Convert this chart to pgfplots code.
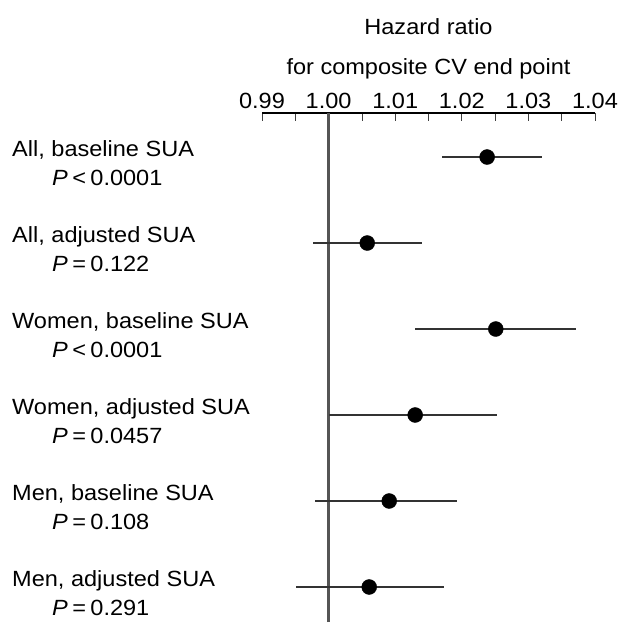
\documentclass[border=0pt]{standalone}
\usepackage{pgfplots}
\pgfplotsset{compat=1.18}
\usepackage{pgfplotstable}
\usepackage{fontspec}
\setmainfont[FakeStretch=1.07]{Liberation Sans}
\definecolor{vline}{HTML}{555555}
\definecolor{ciline}{HTML}{333333}
\newcommand{\pv}[2]{\textit{P}\hspace{0.2em}#1\hspace{0.2em}#2}
\pgfplotstableread{
y   x        lo       hi
6   1.0238   1.0170   1.0320
5   1.0058   0.9977   1.0140
4   1.0251   1.0130   1.0371
3   1.0130   1.0000   1.0253
2   1.0091   0.9980   1.0193
1   1.0061   0.9951   1.0173
}\hrdata
\begin{document}
\begin{tikzpicture}[x=1pt,y=1pt]
\path[use as bounding box] (0,0) rectangle (618,626);
\begin{axis}[
  at={(262pt,4pt)}, anchor=south west,
  scale only axis, width=333pt, height=509pt,
  xmin=0.99, xmax=1.04, ymin=0.593, ymax=6.512,
  axis x line=top, axis y line=none,
  x axis line style={-, line width=1.6pt, black},
  xtick={0.99,1.00,1.01,1.02,1.03,1.04},
  xticklabels={0.99,1.00,1.01,1.02,1.03,1.04},
  minor x tick num=1,
  tick align=inside,
  major tick length=8pt, minor tick length=8pt,
  every tick/.style={black!75, line width=0.8pt},
  xticklabel style={font=\fontsize{22}{26}\selectfont, yshift=1pt},
  clip=false,
]
\addplot[vline, line width=3.2pt] coordinates {(1.00,0.593) (1.00,6.512)};
\addplot[only marks, mark=*, mark size=7.5pt, black,
  error bars/.cd, x dir=both, x explicit,
  error bar style={ciline, line width=2.7pt}, error mark=none]
  table[x=x, y=y, x error plus expr=\thisrow{hi}-\thisrow{x}, x error minus expr=\thisrow{x}-\thisrow{lo}] {\hrdata};
\end{axis}
\begin{scope}[every node/.style={font=\fontsize{22}{26}\selectfont, inner sep=0pt}]
\node[anchor=base] at (428.5, 591) {Hazard ratio};
\node[anchor=base] at (428.5, 551) {for composite CV end point};
\node[anchor=base west] at (12, 469) {All, baseline SUA};
\node[anchor=base west] at (52, 440) {\pv{<}{0.0001}};
\node[anchor=base west] at (12, 383) {All, adjusted SUA};
\node[anchor=base west] at (52, 354) {\pv{=}{0.122}};
\node[anchor=base west] at (12, 297) {Women, baseline SUA};
\node[anchor=base west] at (52, 268) {\pv{<}{0.0001}};
\node[anchor=base west] at (12, 211) {Women, adjusted SUA};
\node[anchor=base west] at (52, 182) {\pv{=}{0.0457}};
\node[anchor=base west] at (12, 125) {Men, baseline SUA};
\node[anchor=base west] at (52, 96) {\pv{=}{0.108}};
\node[anchor=base west] at (12, 39) {Men, adjusted SUA};
\node[anchor=base west] at (52, 10) {\pv{=}{0.291}};
\end{scope}
\end{tikzpicture}
\end{document}
